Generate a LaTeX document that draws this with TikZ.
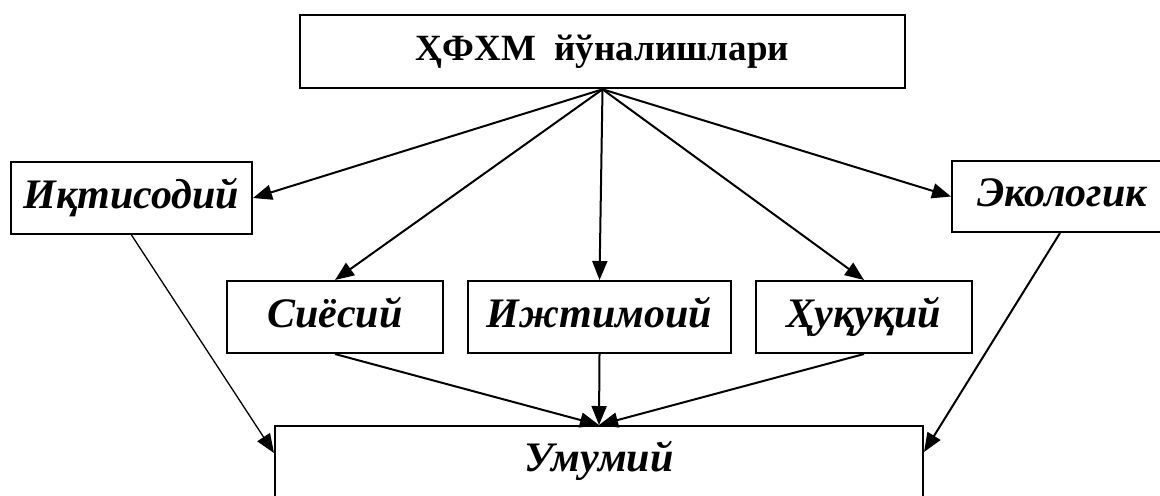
\documentclass[tikz,border=0pt]{standalone}
\usepackage{fontspec}
\setmainfont{Liberation Serif}
\usetikzlibrary{arrows.meta,calc}

\tikzset{
  lbl/.style={draw, line width=1pt, inner sep=0pt, text height=14pt, text depth=4pt,
              font=\bfseries\itshape\fontsize{21}{24}\selectfont},
  arr/.style={-{Triangle[length=9.5pt,width=7.5pt]}, line width=1pt},
}

\begin{document}
\begin{tikzpicture}[x=0.5pt, y=-0.5pt]
        \useasboundingbox (0,0) rectangle (1160,495);

        % Boxes
        \node[draw, line width=1.3pt, minimum width=302.5pt, minimum height=36.5pt,
              font=\bfseries\fontsize{18.5}{22}\selectfont] (Title) at (602.5, 51.5) {ҲФХМ\ \ йўналишлари};
        \node[lbl, minimum width=120.5pt, minimum height=36pt] (Iqt) at (131.5, 198) {Иқтисодий};
        \node[lbl, minimum width=125pt, minimum height=35.5pt, anchor=west] (Eko) at (951, 196.5) {\hspace*{-15pt}Экологик};
        \node[lbl, minimum width=108pt, minimum height=36pt] (Siy) at (335, 317) {Сиёсий};
        \node[lbl, minimum width=131.5pt, minimum height=36pt] (Ijt) at (599.5, 317) {Ижтимоий};
        \node[lbl, minimum width=108pt, minimum height=36pt] (Huq) at (864, 317) {Ҳуқуқий};
        \node[lbl, anchor=north, minimum width=324pt, inner sep=6pt, text height=16.5pt, text depth=40pt] (Umu) at (599, 425) {Умумий};

        % Arrows
        \draw[arr] (Title.south) -- (Iqt.east);
        \draw[arr] (Title.south) -- (Siy.north);
        \draw[arr] (Title.south) -- (Ijt.north);
        \draw[arr] (Title.south) -- (Huq.north);
        \draw[arr] (Title.south) -- (Eko.west);
        \draw[arr] (Siy.south) -- (Umu.north);
        \draw[arr] (Ijt.south) -- (Umu.north);
        \draw[arr] (Huq.south) -- (Umu.north);
        \draw[arr, line width=0.65pt] (Iqt.south) -- ($(Umu.north west)+(0,28)$);
        \draw[arr] ($(Eko.south west)+(109,0)$) -- ($(Umu.north east)+(0,27)$);
    \end{tikzpicture}
\end{document}
